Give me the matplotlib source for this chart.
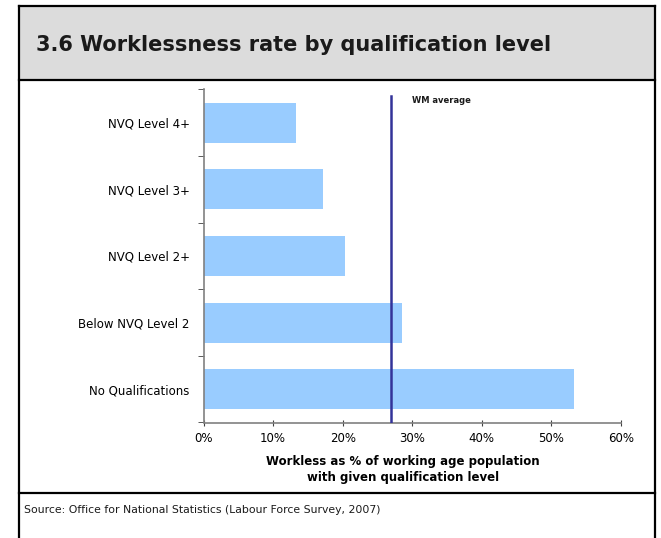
import matplotlib.pyplot as plt
from matplotlib.patches import Rectangle
from matplotlib.lines import Line2D
from matplotlib.ticker import FixedLocator, PercentFormatter

categories = ['No Qualifications', 'Below NVQ Level 2', 'NVQ Level 2+',
              'NVQ Level 3+', 'NVQ Level 4+']
rates = [53.2, 28.5, 20.3, 17.2, 13.3]
wm_average = 27.0
xticks = [0, 10, 20, 30, 40, 50, 60]

W, H = 661, 538
fig = plt.figure(figsize=(W / 100, H / 100), dpi=100)

def fx(px):
    return px / W

def fy(py):
    return 1 - py / H

# frame: title band, chart box, source band
fig.patches.append(Rectangle((fx(19), fy(80)), fx(655) - fx(19), fy(6) - fy(80),
                             transform=fig.transFigure, facecolor='#dcdcdc',
                             edgecolor='none', zorder=0))
lw = 1.6
for (x0, y0, x1, y1) in [(19, 6, 655, 6), (19, 80, 655, 80), (19, 493, 655, 493),
                         (19, 6, 19, 538), (655, 6, 655, 538)]:
    fig.lines.append(Line2D([fx(x0), fx(x1)], [fy(y0), fy(y1)],
                            transform=fig.transFigure, color='black', lw=lw))

fig.text(fx(36), fy(45), '3.6 Worklessness rate by qualification level',
         fontsize=15, fontweight='bold', va='center', ha='left', color='#1a1a1a')
fig.text(fx(24), fy(510), 'Source: Office for National Statistics (Labour Force Survey, 2007)',
         fontsize=7.8, va='center', ha='left', color='#1a1a1a')

ax = fig.add_axes([fx(203.5), fy(422.5), fx(621) - fx(203.5), fy(89.5) - fy(422.5)])
ypos = list(range(len(categories)))
ax.barh(ypos, rates, height=0.6, color='#99ccff', zorder=2)
ax.axvline(wm_average, color='#333399', lw=1.8, ymin=0.0, ymax=0.98, zorder=3)
ax.text(wm_average + 2.9, 4.33, 'WM average', fontsize=6, fontweight='bold',
        va='center', ha='left', color='#1a1a1a')

ax.set_xlim(0, 60)
ax.set_ylim(-0.5, 4.5)
ax.set_xticks(xticks)
ax.xaxis.set_major_formatter(PercentFormatter(decimals=0))
ax.set_yticks(ypos)
ax.set_yticklabels(categories)
ax.yaxis.set_minor_locator(FixedLocator([-0.5, 0.5, 1.5, 2.5, 3.5, 4.5]))
ax.tick_params(axis='y', which='major', length=0, pad=10, labelsize=8.5)
ax.tick_params(axis='y', which='minor', length=4, direction='out', color='#404040')
ax.tick_params(axis='x', length=5, direction='inout', color='#404040', labelsize=8.5, pad=4)

for s in ['top', 'right']:
    ax.spines[s].set_visible(False)
for s in ['left', 'bottom']:
    ax.spines[s].set_color('#808080')
    ax.spines[s].set_linewidth(1.2)

ax.set_xlabel('Workless as % of working age population\nwith given qualification level',
              fontsize=8.5, fontweight='bold', linespacing=1.35)
ax.xaxis.set_label_coords(0.477, -0.097)

fig.savefig('out.png', dpi=100)
